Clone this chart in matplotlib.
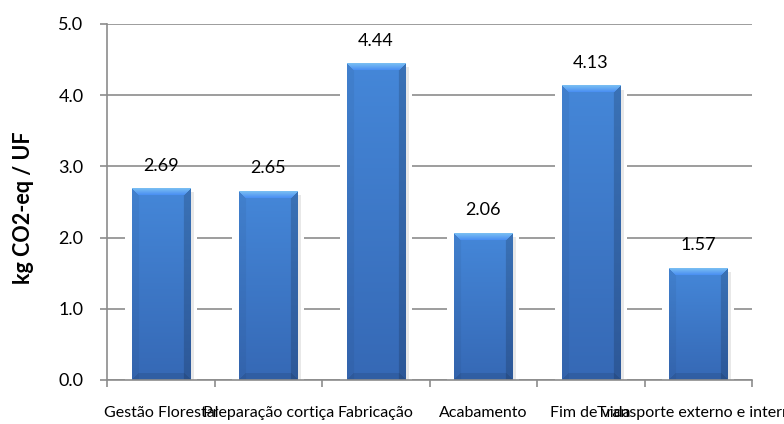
import numpy as np
import matplotlib
matplotlib.use("Agg")
import matplotlib.pyplot as plt
from matplotlib.patches import Rectangle

plt.rcParams['font.family'] = ['Lato', 'DejaVu Sans']

categories = ["Gestão Florestal", "Preparação cortiça", "Fabricação",
              "Acabamento", "Fim de vida", "Transporte externo e interno"]
values = [2.69, 2.65, 4.44, 2.06, 4.13, 1.57]
y_ticks = [0.0, 1.0, 2.0, 3.0, 4.0, 5.0]
y_label = "kg CO2-eq / UF"

W, H, DPI = 784, 424, 100
fig = plt.figure(figsize=(W / DPI, H / DPI), dpi=DPI)
ax = fig.add_axes([107 / W, 44 / H, 645 / W, 356 / H])

n = len(categories)
x = np.arange(n)
bar_w = 0.54
ax.set_xlim(-0.5, n - 0.5)
ax.set_ylim(0, 5.0)

# grid and axes styling
grid_col = "#8c8c8c"
ax.set_yticks(y_ticks)
ax.set_yticklabels([f"{v:.1f}" for v in y_ticks], fontsize=13)
ax.yaxis.grid(True, color=grid_col, linewidth=1.2, zorder=0)
ax.set_axisbelow(True)
for s in ["top", "right"]:
    ax.spines[s].set_visible(False)
for s in ["left", "bottom"]:
    ax.spines[s].set_color(grid_col)
    ax.spines[s].set_linewidth(1.2)
ax.tick_params(axis="y", length=5, width=1.2, color=grid_col, pad=12)

ax.set_xticks(x)
ax.set_xticklabels(categories, fontsize=11.5)
ax.tick_params(axis="x", which="major", length=0, pad=19)
ax.set_xticks(np.arange(n + 1) - 0.5, minor=True)
ax.tick_params(axis="x", which="minor", length=5, width=1.2, color=grid_col)

fig.text(24 / W, 1 - 208 / H, y_label, rotation=90, ha="center", va="center",
         fontsize=15.5, fontweight="bold")

# pixel scale of the data axes
fig.canvas.draw()
px_per_unit_y = ax.bbox.height / 5.0
px_per_unit_x = ax.bbox.width / n


def bevel_image(wpx, hpx):
    """RGB array for a bevelled blue column of wpx x hpx pixels."""
    wpx = max(int(round(wpx)), 2)
    hpx = max(int(round(hpx)), 2)
    top = np.array([0.27, 0.53, 0.85])
    bot = np.array([0.21, 0.41, 0.71])
    t = np.linspace(0, 1, hpx)[:, None, None]
    img = top * (1 - t) + bot * t
    img = np.broadcast_to(img, (hpx, wpx, 3)).copy()
    yy, xx = np.mgrid[0:hpx, 0:wpx]
    b = 7
    # side bevels
    img[(xx < b) & (yy >= xx)] *= 0.95
    img[(xx >= wpx - b) & (yy >= wpx - 1 - xx)] *= 0.84
    # light top bevel (trapezoid)
    topb = (yy < b) & (xx >= yy) & (xx < wpx - yy)
    grad = np.linspace(0.62, 0.45, b)
    for r in range(b):
        row = topb[r]
        img[r, row] = np.array([grad[r] - 0.15, grad[r] + 0.12, 0.95])
    # darker bottom bevel
    botb = (yy >= hpx - b) & (xx >= hpx - 1 - yy) & (xx < wpx - (hpx - 1 - yy))
    img[botb] *= 0.9
    return np.clip(img, 0, 1)


for xi, v in zip(x, values):
    # white halo that breaks the gridlines around each column
    gap = 7 / px_per_unit_x
    ax.add_patch(Rectangle((xi - bar_w / 2 - gap, 0), bar_w + 2 * gap, v,
                           facecolor="white", edgecolor="none", zorder=1))
    # soft shadow on the right side
    sh = 4 / px_per_unit_x
    ax.add_patch(Rectangle((xi + bar_w / 2, 0), sh, v - 0.05,
                           facecolor="#e8e8e8", edgecolor="none", zorder=1.5))
    img = bevel_image(bar_w * px_per_unit_x, v * px_per_unit_y)
    ax.imshow(img, extent=(xi - bar_w / 2, xi + bar_w / 2, 0, v),
              aspect="auto", zorder=2, interpolation="bilinear")
    ax.annotate(f"{v:.2f}", (xi, v), xytext=(0, 16.5), textcoords="offset points",
                ha="center", va="center", fontsize=13, zorder=3)

ax.set_xlim(-0.5, n - 0.5)
ax.set_ylim(0, 5.0)

fig.savefig("out.png", dpi=DPI)
